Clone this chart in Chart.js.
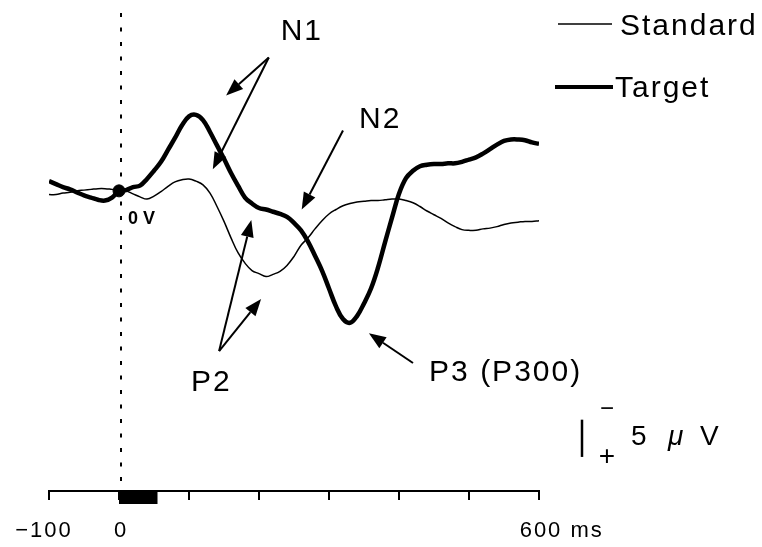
<!DOCTYPE html>
<html>
<head>
<meta charset="utf-8">
<title>ERP waveforms</title>
<script src="https://cdn.jsdelivr.net/npm/chart.js@4/dist/chart.umd.min.js"></script>
<style>
    body { margin: 0; background: #fff; }
    canvas { display: block; }
</style>
</head>
<body>
<canvas id="erpChart" width="762" height="547"></canvas>
<script>
// sample times (ms), one every 10 ms
const times = [
    -100, -90, -80, -70, -60, -50, -40, -30, -20, -10,
    0, 10, 20, 30, 40, 50, 60, 70, 80, 90,
    100, 110, 120, 130, 140, 150, 160, 170, 180, 190,
    200, 210, 220, 230, 240, 250, 260, 270, 280, 290,
    300, 310, 320, 330, 340, 350, 360, 370, 380, 390,
    400, 410, 420, 430, 440, 450, 460, 470, 480, 490,
    500, 510, 520, 530, 540, 550, 560, 570, 580, 590, 600
];

// amplitudes in microvolts (negative is drawn upwards)
const standardUv = [
    0.5, 0.5, 0.3, 0.2, 0.0, -0.1, -0.2, -0.3, -0.3, -0.2,
    -0.1, 0.0, 0.4, 0.8, 1.1, 0.7, 0.1, -0.6, -1.2, -1.5,
    -1.6, -1.3, -0.8, 0.3, 2.1, 4.1, 6.3, 8.3, 9.7, 10.7,
    11.1, 11.5, 11.2, 10.8, 10.0, 8.8, 7.3, 6.3, 5.1, 4.0,
    3.1, 2.5, 2.0, 1.7, 1.5, 1.4, 1.3, 1.3, 1.2, 1.1,
    1.1, 1.3, 1.6, 2.1, 2.7, 3.2, 3.7, 4.3, 4.8, 5.2,
    5.3, 5.3, 5.1, 5.0, 4.8, 4.5, 4.3, 4.2, 4.1, 4.1, 4.0
];

const targetUv = [
    -1.3, -0.9, -0.5, -0.2, 0.2, 0.6, 0.9, 1.2, 1.3, 0.9,
    0.0, -0.1, -0.5, -0.7, -1.6, -2.7, -3.9, -5.5, -7.1, -8.8,
    -10.0, -10.2, -9.5, -7.9, -6.1, -4.3, -2.4, -0.7, 0.9, 1.7,
    2.3, 2.5, 2.8, 3.1, 3.5, 4.3, 5.3, 6.8, 8.7, 10.7,
    13.1, 15.5, 17.2, 17.7, 16.8, 15.1, 13.1, 10.3, 6.9, 3.6,
    0.4, -1.7, -2.7, -3.3, -3.5, -3.6, -3.6, -3.7, -3.7, -3.9,
    -4.2, -4.5, -5.0, -5.6, -6.2, -6.7, -6.9, -6.9, -6.8, -6.5, -6.3
];

const tickValues = [-100, 0, 600];
const tickLabels = ['\u2212100', '0', '600 ms'];

const stimulusMs = [0, 55];
const scaleBarUv = 5;

// component labels and arrows, placed in (ms, uV)
const componentLabels = [
    { text: 'N1', t: 231, v: -20.3 },
    { text: 'N2', t: 343, v: -8.5 },
    { text: 'P2', t: 103, v: 26.8 },
    { text: 'P3 (P300)', t: 443, v: 25.5 }
];
const componentArrows = [
    { from: [214, -17.9], to: [153, -12.8] },
    { from: [214, -17.9], to: [134, -2.9] },
    { from: [320, -8.1], to: [261, 2.5] },
    { from: [143, 21.5], to: [189, 3.9] },
    { from: [143, 21.5], to: [203, 14.5] },
    { from: [420, 23.1], to: [357, 19.1] }
];

const LABEL_FONT = '30px "Liberation Sans", Arial, sans-serif';

function toPoints(values) {
    return times.map((t, i) => ({ x: t, y: values[i] }));
}

function drawArrow(ctx, x1, y1, x2, y2) {
    const ang = Math.atan2(y2 - y1, x2 - x1);
    const len = 17, half = 6.5;
    const bx = x2 - len * Math.cos(ang), by = y2 - len * Math.sin(ang);
    ctx.beginPath();
    ctx.moveTo(x1, y1);
    ctx.lineTo(bx, by);
    ctx.stroke();
    ctx.beginPath();
    ctx.moveTo(x2, y2);
    ctx.lineTo(bx + half * Math.sin(ang), by - half * Math.cos(ang));
    ctx.lineTo(bx - half * Math.sin(ang), by + half * Math.cos(ang));
    ctx.closePath();
    ctx.fill();
}

const erpDecor = {
    id: 'erpDecor',
    beforeDatasetsDraw(chart) {
        const { ctx, chartArea, scales: { x } } = chart;
        // stimulus onset
        const x0 = x.getPixelForValue(0);
        ctx.save();
        ctx.strokeStyle = '#000';
        ctx.lineWidth = 2;
        ctx.setLineDash([4, 10.5]);
        ctx.beginPath();
        ctx.moveTo(x0 + 2, chartArea.top + 6);
        ctx.lineTo(x0 + 2, chartArea.bottom);
        ctx.stroke();
        ctx.restore();
    },
    afterDraw(chart) {
        const { ctx, chartArea, scales: { x, y } } = chart;
        ctx.save();
        ctx.fillStyle = '#000';
        ctx.strokeStyle = '#000';

        // stimulus bar under the time axis
        const s0 = x.getPixelForValue(stimulusMs[0]);
        const s1 = x.getPixelForValue(stimulusMs[1]);
        ctx.fillRect(s0, chartArea.bottom, s1 - s0, 13);

        // time labels
        ctx.font = '22px "Liberation Sans", Arial, sans-serif';
        ctx.letterSpacing = '2px';
        ctx.textBaseline = 'alphabetic';
        tickValues.forEach((v, i) => {
            const px = x.getPixelForValue(v);
            const label = tickLabels[i];
            const numW = ctx.measureText(label.split(' ')[0]).width;
            ctx.textAlign = 'left';
            ctx.fillText(label, px - numW / 2 + (i === 0 ? -5 : 2), 537);
        });

        // component arrows and names
        ctx.lineWidth = 2;
        componentArrows.forEach(a => {
            drawArrow(ctx,
                x.getPixelForValue(a.from[0]), y.getPixelForValue(a.from[1]),
                x.getPixelForValue(a.to[0]), y.getPixelForValue(a.to[1]));
        });
        ctx.font = LABEL_FONT;
        ctx.letterSpacing = '2px';
        ctx.textAlign = 'left';
        componentLabels.forEach(l => {
            ctx.fillText(l.text, x.getPixelForValue(l.t), y.getPixelForValue(l.v));
        });

        // zero-volt mark
        ctx.font = 'bold 18px "Liberation Sans", Arial, sans-serif';
        ctx.letterSpacing = '0px';
        ctx.fillText('0 V', x.getPixelForValue(13), y.getPixelForValue(4.5));

        // legend
        ctx.lineWidth = 1.5;
        ctx.beginPath();
        ctx.moveTo(558, 24);
        ctx.lineTo(612, 24);
        ctx.stroke();
        ctx.lineWidth = 4;
        ctx.beginPath();
        ctx.moveTo(555, 87);
        ctx.lineTo(613, 87);
        ctx.stroke();
        ctx.font = LABEL_FONT;
        ctx.letterSpacing = '2px';
        ctx.fillText('Standard', 620, 35);
        ctx.fillText('Target', 615, 97);

        // 5 uV calibration bar
        const barTop = y.getPixelForValue(30.7);
        const barBot = y.getPixelForValue(30.7 + scaleBarUv);
        ctx.lineWidth = 2.5;
        ctx.beginPath();
        ctx.moveTo(582, barTop);
        ctx.lineTo(582, barBot);
        ctx.stroke();
        ctx.letterSpacing = '0px';
        ctx.font = '24px "Liberation Sans", Arial, sans-serif';
        ctx.textAlign = 'center';
        ctx.fillText('\u2212', 607, barTop - 4);
        ctx.font = '28px "Liberation Sans", Arial, sans-serif';
        ctx.fillText('+', 607, barBot + 8);
        ctx.textAlign = 'left';
        ctx.fillText('5', 631, 445);
        ctx.font = 'italic 28px "Liberation Sans", Arial, sans-serif';
        ctx.fillText('\u03bc', 668, 445);
        ctx.font = '28px "Liberation Sans", Arial, sans-serif';
        ctx.fillText('V', 700, 445);
        ctx.restore();
    }
};

document.addEventListener('DOMContentLoaded', function() {
    new Chart(document.getElementById('erpChart'), {
        type: 'line',
        data: {
            datasets: [{
                label: 'Standard',
                data: toPoints(standardUv),
                borderColor: '#000',
                borderWidth: 1.5,
                pointRadius: 0,
                tension: 0.4
            }, {
                label: 'Target',
                data: toPoints(targetUv),
                borderColor: '#000',
                borderWidth: 4.5,
                pointRadius: 0,
                tension: 0.4
            }, {
                label: 'onset',
                data: [{ x: 0, y: 0 }],
                showLine: false,
                pointRadius: 6,
                pointBackgroundColor: '#000',
                pointBorderColor: '#000'
            }]
        },
        options: {
            responsive: false,
            animation: false,
            layout: {
                padding: { left: 49, right: 223, top: 4, bottom: 47 }
            },
            plugins: {
                legend: { display: false },
                tooltip: { enabled: false }
            },
            scales: {
                x: {
                    type: 'linear',
                    min: -100,
                    max: 600,
                    ticks: { stepSize: 100, display: false },
                    grid: {
                        drawOnChartArea: false,
                        drawTicks: true,
                        tickLength: 9,
                        color: '#000',
                        lineWidth: 2
                    },
                    border: { color: '#000', width: 2 }
                },
                y: {
                    display: false,
                    reverse: true,
                    min: -24.67,
                    max: 40.27
                }
            }
        },
        plugins: [erpDecor]
    });
});
</script>
</body>
</html>
